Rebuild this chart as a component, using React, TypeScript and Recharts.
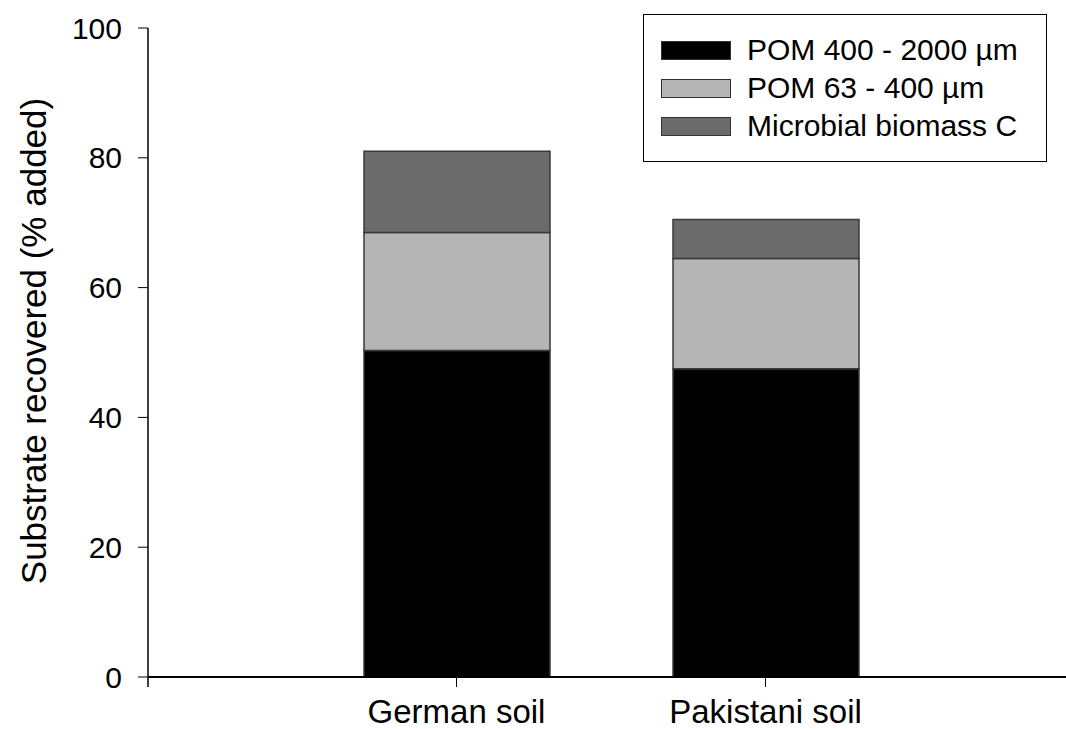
import React from "react"
import { BarChart, Bar, XAxis, YAxis, Label } from "recharts"

const soils = ["German soil", "Pakistani soil"]
const pomCoarse = [50.3, 47.5]
const pomFine = [18.2, 17.0]
const microbialC = [12.5, 6.0]
const yTicks = [0, 20, 40, 60, 80, 100]

const series = [
  { key: "pomCoarse", name: "POM 400 - 2000 µm", color: "#000000" },
  { key: "pomFine", name: "POM 63 - 400 µm", color: "#b5b5b5" },
  { key: "microbialC", name: "Microbial biomass C", color: "#6b6b6b" },
]

const data = soils.map((soil, i) => ({
  soil,
  pomCoarse: pomCoarse[i],
  pomFine: pomFine[i],
  microbialC: microbialC[i],
}))

const FONT = "'Liberation Sans', Arial, sans-serif"

const YTick = ({ x, y, payload }: any) => (
  <g>
    <text x={x} y={y} textAnchor="end" dominantBaseline="central" fontSize={30} fontFamily={FONT} fill="#000">
      {payload.value}
    </text>
    {/* little stub of the y axis below the origin */}
    {payload.value === 0 && <line x1={148} y1={y} x2={148} y2={y + 10} stroke="#000" strokeWidth={1.5} />}
  </g>
)

const XTick = ({ x, y, payload }: any) => (
  <text x={x} y={y + 34} textAnchor="middle" fontSize={33} fontFamily={FONT} fill="#000">
    {payload.value}
  </text>
)

const LegendBox = () => (
  <div style={{ position: "absolute", left: 643, top: 14, width: 404, height: 148, border: "1.5px solid #000", background: "#fff", boxSizing: "border-box", paddingTop: 16, fontFamily: FONT }}>
    {series.map(s => (
      <div key={s.key} style={{ display: "flex", alignItems: "center", height: 38, marginLeft: 17 }}>
        <div style={{ width: 70, height: 19, background: s.color, border: "1px solid #333", boxSizing: "border-box" }} />
        <span style={{ fontSize: 30, marginLeft: 16, color: "#000", lineHeight: "30px" }}>{s.name}</span>
      </div>
    ))}
  </div>
)

export default function App() {
  return (
    <div style={{ position: "absolute", left: 0, top: 0, width: 1066, height: 729, overflow: "hidden", background: "#fff" }}>
      <BarChart width={1074} height={729} data={data} margin={{ top: 28, right: 0, bottom: 0, left: 0 }}>
        <XAxis
          dataKey="soil"
          height={52}
          padding={{ left: 154, right: 154 }}
          axisLine={{ stroke: "#000", strokeWidth: 2 }}
          tickLine={{ stroke: "#000", strokeWidth: 1 }}
          tickSize={10}
          tick={<XTick />}
        />
        <YAxis
          width={148}
          domain={[0, 100]}
          ticks={yTicks}
          axisLine={{ stroke: "#000", strokeWidth: 1.5 }}
          tickLine={{ stroke: "#000", strokeWidth: 1 }}
          tickSize={10}
          tickMargin={16}
          tick={<YTick />}
        >
          <Label
            content={() => (
              <text x={46} y={341} transform="rotate(-90 46 341)" textAnchor="middle" fontSize={35} fontFamily={FONT} fill="#000">
                Substrate recovered (% added)
              </text>
            )}
          />
        </YAxis>
        {series.map(s => (
          <Bar
            key={s.key}
            dataKey={s.key}
            name={s.name}
            stackId="soil"
            fill={s.color}
            stroke="#3a3a3a"
            strokeWidth={1.5}
            barSize={186}
            isAnimationActive={false}
          />
        ))}
      </BarChart>
      <LegendBox />
    </div>
  )
}
